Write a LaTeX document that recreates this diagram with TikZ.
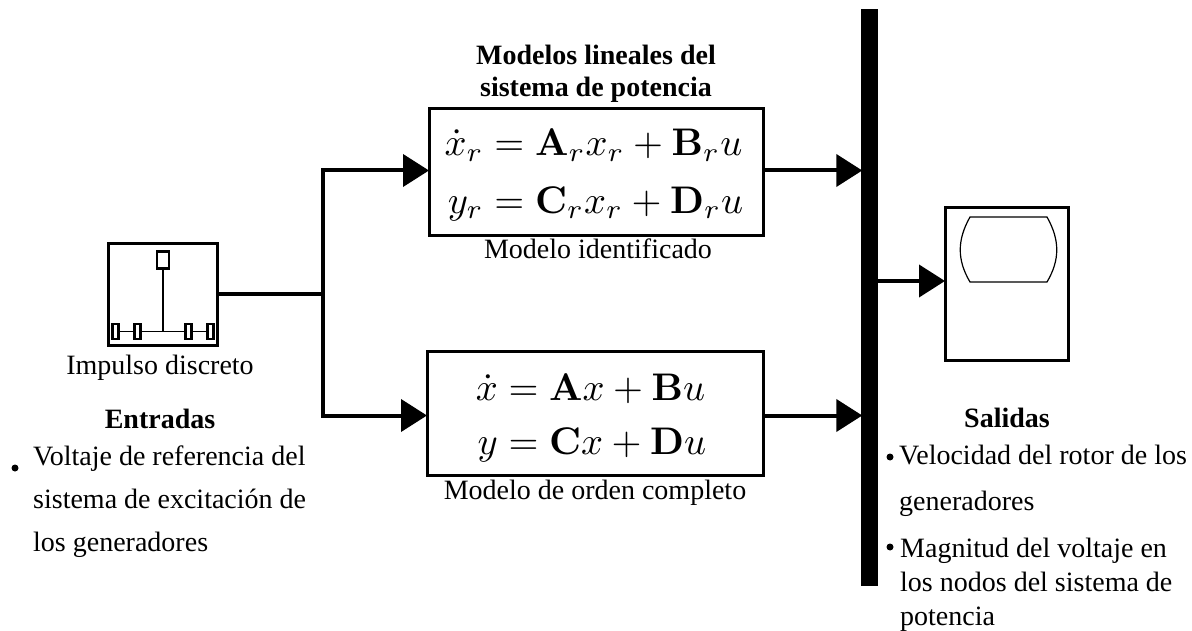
\documentclass[tikz,border=0pt]{standalone}
\usepackage[no-math]{fontspec}
\setmainfont{Liberation Serif}
\usepackage{amsmath}
\usetikzlibrary{arrows.meta, positioning}

\begin{document}
\begin{tikzpicture}[
  x=1pt, y=-1pt,
  block/.style={draw, rectangle, line width=3pt, inner sep=0pt, align=center},
  bus/.style={draw=none, fill=black, rectangle, inner sep=0pt, minimum width=17pt, minimum height=577pt},
  arrow/.style={line width=4pt,shorten >=-1.5pt,-{Triangle[length=26pt,width=32pt]}},
  wire/.style={line width=4pt},
  part/.style={draw, rectangle, line width=2.5pt, inner sep=0pt, minimum width=6pt, minimum height=15pt},
  thin line/.style={line width=1.2pt},
  equation/.style={scale=3.85, transform shape, inner sep=0pt},
  label/.style={font=\fontsize{28}{33}\selectfont, inner sep=0pt, align=center},
  title/.style={font=\fontsize{28}{32}\selectfont\bfseries, inner sep=0pt, align=center},
  item/.style={font=\fontsize{28}{35}\selectfont, inner sep=0pt, align=left, anchor=base west},
  dot/.style={circle, fill=black, inner sep=0pt, minimum size=7pt}
]
  \useasboundingbox (0,0) rectangle (1192,631);

  % blocks
  \node (impulse) [block, minimum width=109pt, minimum height=101pt] at (163,294.5) {};
  \node (linear) [block, minimum width=334pt, minimum height=127pt] at (596,172) {};
  \node (full) [block, minimum width=336pt, minimum height=124pt] at (595,413) {};
  \node (barra) [bus] at (869.5,297.5) {};
  \node (scope) [block, minimum width=123pt, minimum height=153pt] at (1006.5,284) {};
  \coordinate (branch) at (323,294.5);

  % equations
  \node (eqlinear) [equation] at (594,175) {\fontsize{10}{12}\selectfont$\begin{aligned}\dot{x}_r &= \mathbf{A}_r x_r + \mathbf{B}_r u\\ y_r &= \mathbf{C}_r x_r + \mathbf{D}_r u\end{aligned}$};
  \node (eqfull) [equation] at (591,419) {\fontsize{10}{11}\selectfont$\begin{aligned}\dot{x} &= \mathbf{A} x + \mathbf{B} u\\ y &= \mathbf{C} x + \mathbf{D} u\end{aligned}$};

  % labels
  \node (titlelinear) [title, above=4pt of linear] {Modelos lineales del\\sistema de potencia};
  \node (lblinear) [label, below=2pt of linear, xshift=2pt] {Modelo identificado};
  \node (lbfull) [label, below=3pt of full] {Modelo de orden completo};
  \node (lbimpulse) [label, below=8pt of impulse, xshift=-3pt] {Impulso discreto};

  % connectors
  \coordinate (inlinear) at ([yshift=1.5pt]linear.west);
  \coordinate (outlinear) at ([yshift=1.5pt]linear.east);
  \coordinate (infull) at ([yshift=-2.5pt]full.west);
  \coordinate (outfull) at ([yshift=-2.5pt]full.east);
  \coordinate (inscope) at ([yshift=3pt]scope.west);
  \draw [wire] (impulse.east) -- (branch);
  \draw [arrow] (branch) |- (inlinear);
  \draw [arrow] (branch) |- (infull);
  \draw [arrow] (outlinear) -- (outlinear -| barra.west);
  \draw [arrow] (outfull) -- (outfull -| barra.west);
  \draw [arrow] (barra.east |- inscope) -- (inscope);

  % impulse icon
  \node (mass) [part, minimum width=12pt, minimum height=17pt] at (163,260) {};
  \node (p1) [part] at (115.5,331.5) {};
  \node (p2) [part] at (137.5,331.5) {};
  \node (p3) [part] at (188.5,331.5) {};
  \node (p4) [part] at (210.5,331.5) {};
  \coordinate (stem) at (p2 -| mass);
  \draw [thin line] (mass.south) -- (stem);
  \draw [thin line] (p1) -- (p2);
  \draw [thin line] (p2) -- (p3);
  \draw [thin line] (p3) -- (p4);

  % scope screen
  \draw [line width=1.2pt] (970,217) -- (1047,217) .. controls (1060,240) and (1060,260) .. (1047,282) -- (970,282) .. controls (957,260) and (957,240) .. (970,217) -- cycle;

  % inputs
  \node (entradas) [title] at (160,419) {Entradas};
  \node (dotin) [dot] at (15,468) {};
  \node (listin) [item, font=\fontsize{28}{43}\selectfont] at (33,551) {Voltaje de referencia del\\sistema de excitación de\\los generadores};

  % outputs
  \node (salidas) [title] at (1007,418) {Salidas};
  \node (dotoutA) [dot] at (890,457) {};
  \node (listoutA) [item, font=\fontsize{28}{46}\selectfont] at (899,510) {Velocidad del rotor de los\\generadores};
  \node (dotoutB) [dot] at (890,547) {};
  \node (listoutB) [item, font=\fontsize{28}{34}\selectfont] at (900,625) {Magnitud del voltaje en\\los nodos del sistema de\\potencia};
\end{tikzpicture}
\end{document}
